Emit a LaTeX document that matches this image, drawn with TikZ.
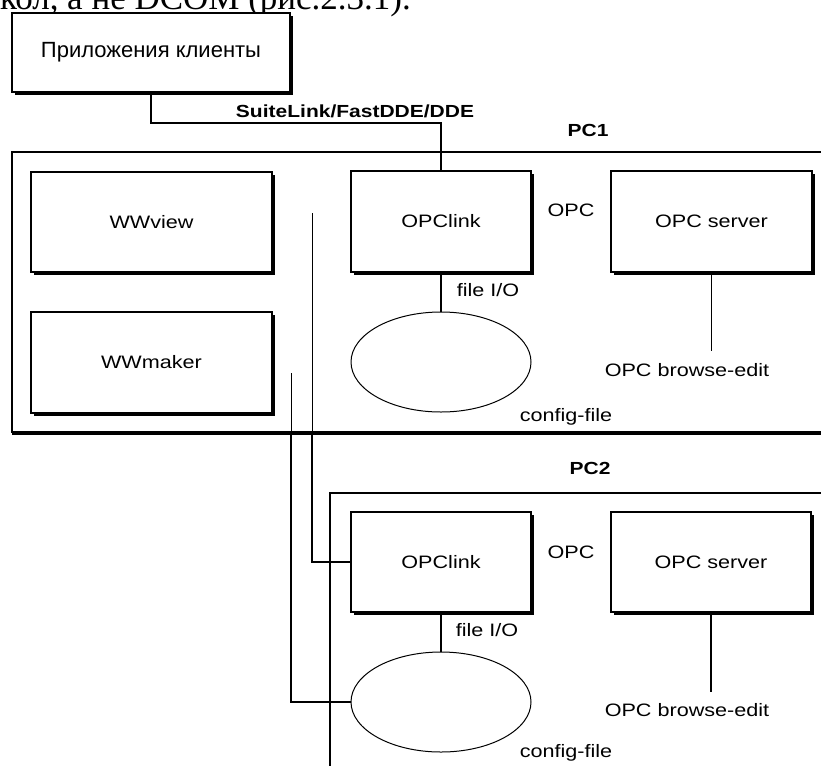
\documentclass[tikz,border=0pt]{standalone}
\usepackage{fontspec}
\setmainfont{Liberation Sans}
\newfontfamily\dia[FakeStretch=1.2]{Liberation Sans}
\newfontfamily\plainsans{Liberation Sans}
\newfontfamily\serifcut{Liberation Serif}
\usetikzlibrary{shapes.geometric,shadows}
\tikzset{
  every node/.style={inner sep=0pt, outer sep=0pt},
  lbl/.style={font=\dia\fontsize{18}{18}\selectfont},
  boldlbl/.style={font=\dia\bfseries\fontsize{17.5}{18}\selectfont},
  boxnode/.style={draw, line width=1.3pt, fill=white, lbl,
    drop shadow={shadow xshift=3pt, shadow yshift=-3pt, fill=black, opacity=1}},
  filenode/.style={draw, ellipse, line width=1pt, minimum width=180pt, minimum height=100pt},
  frame/.style={line width=1.3pt},
  heavyframe/.style={line width=4pt},
  conn/.style={line width=2pt},
  thinconn/.style={line width=1.2pt},
  hairconn/.style={line width=1pt}
}
\begin{document}
\begin{tikzpicture}[x=1pt,y=-1pt]
\useasboundingbox (0,0) rectangle (821,766);
\clip (0,0) rectangle (821,766);
\fill[white] (0,0) rectangle (821,766);

% cut-off text line at the top (as in the reference)
\node[anchor=base west, font=\serifcut\fontsize{35}{35}\selectfont] (cut) at (0,9) {кол, а не DCOM (рис.2.3.1).};

% PC frames
\draw[frame] (821,152) -- (12,152) -- (12,433);
\draw[heavyframe] (12,433) -- (821,433);
\draw[frame] (821,493) -- (330,493) -- (330,766);

% boxes
\node[boxnode, minimum width=278pt, minimum height=79pt, font=\plainsans\fontsize{22}{22}\selectfont] (client) at (151,52.5) {Приложения клиенты};
\node[boxnode, minimum width=241pt, minimum height=100pt] (wwview) at (151.5,222) {WWview};
\node[boxnode, minimum width=241pt, minimum height=101pt] (wwmaker) at (151.5,362.5) {WWmaker};
\node[boxnode, minimum width=180pt, minimum height=101pt] (link1) at (441,221.5) {OPClink};
\node[boxnode, minimum width=201pt, minimum height=101pt] (srv1) at (711.5,221.5) {OPC server};
\node[boxnode, minimum width=180pt, minimum height=100pt] (link2) at (441,562) {OPClink};
\node[boxnode, minimum width=200pt, minimum height=100pt] (srv2) at (711,562) {OPC server};
\node[filenode] (file1) at (441,362) {};
\node[filenode] (file2) at (441,702) {};

% labels
\node[boldlbl] (suite) at (355,111) {SuiteLink/FastDDE/DDE};
\node[boldlbl] (pc1) at (588,130) {PC1};
\node[boldlbl] (pc2) at (590,468) {PC2};
\node[lbl] (opc1) at (571,210) {OPC};
\node[lbl] (opc2) at (571,552) {OPC};
\node[lbl] (fio1) at (488,290) {file I/O};
\node[lbl] (fio2) at (487,630) {file I/O};
\node[lbl] (cfg1) at (566,417) {config-file};
\node[lbl] (cfg2) at (566,753) {config-file};
\node[lbl] (brw1) at (687,370) {OPC browse-edit};
\node[lbl] (brw2) at (687,710) {OPC browse-edit};

% connector coordinates
\coordinate (f1) at (441,152);
\coordinate (b1) at (711.5,351);
\coordinate (b2) at (711,692);
\coordinate (v1top) at (312,213);
\coordinate (v1mid) at (312,433);
\coordinate (v1end) at (330,562);
\coordinate (v2top) at (291,373);
\coordinate (v2mid) at (291,433);
\coordinate (v2end) at (330,702);

% connectors
\draw[conn] (client.south) -- ++(0,31) -| (f1);
\draw[thinconn] (f1) -- (link1.north);
\draw[thinconn] (link1.south) -- (file1.north);
\draw[thinconn] (srv1.south) -- (b1);
\draw[thinconn] (link2.south) -- (file2.north);
\draw[thinconn] (srv2.south) -- (b2);
\draw[hairconn] (v1top) -- (v1mid);
\draw[conn] (v1mid) |- (v1end);
\draw[thinconn] (v1end) -- (link2.west);
\draw[hairconn] (v2top) -- (v2mid);
\draw[conn] (v2mid) |- (v2end);
\draw[thinconn] (v2end) -- (file2.west);
\end{tikzpicture}
\end{document}
